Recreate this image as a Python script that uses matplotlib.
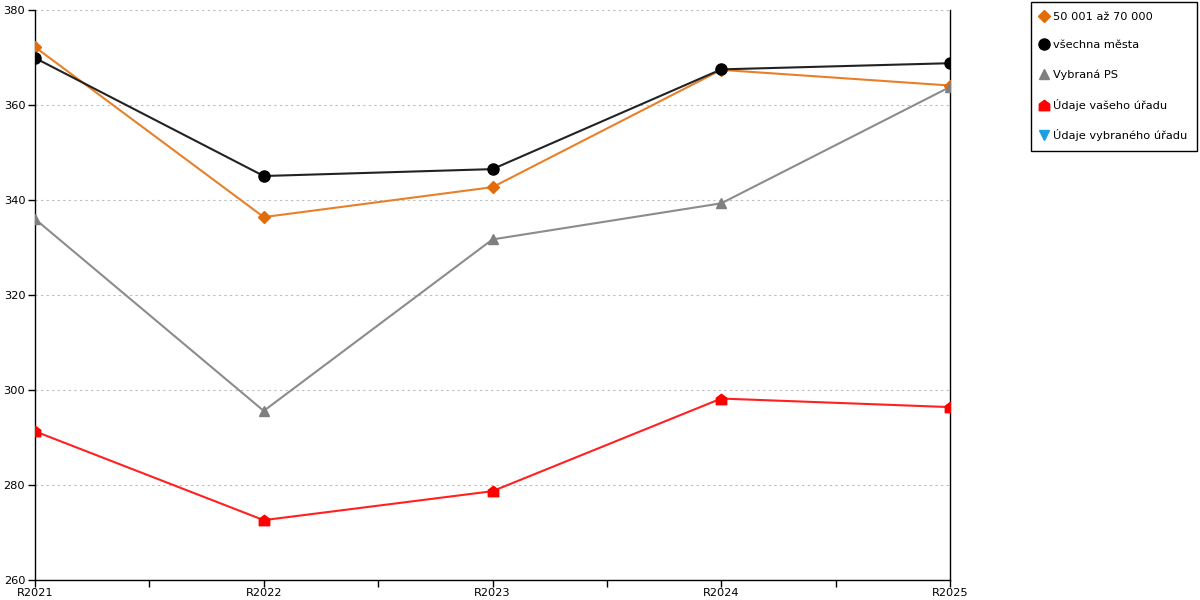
import numpy as np
import matplotlib.pyplot as plt
from matplotlib.path import Path
from matplotlib.lines import Line2D

plt.rcParams["font.family"] = ["DejaVu Sans"]

years = ["R2021", "R2022", "R2023", "R2024", "R2025"]

mesta_50_70 = [372.2, 336.4, 342.7, 367.4, 364.1]
vsechna_mesta = [369.9, 345.05, 346.5, 367.5, 368.8]
vybrana_ps = [336.0, 295.6, 331.7, 339.3, 363.8]
vas_urad = [291.3, 272.6, 278.7, 298.2, 296.4]
vybrany_urad = []

y_ticks = [260, 280, 300, 320, 340, 360, 380]

# domecek jako znacka pro "Údaje vašeho úřadu"
house = Path([(-1, -1), (1, -1), (1, 0.25), (0, 1), (-1, 0.25), (-1, -1)],
             [Path.MOVETO, Path.LINETO, Path.LINETO, Path.LINETO, Path.LINETO, Path.CLOSEPOLY])

series = [
    ("50 001 až 70 000", mesta_50_70, "#e36c0a", "#e8802a", "D", 6),
    ("všechna města", vsechna_mesta, "#000000", "#222222", "o", 8),
    ("Vybraná PS", vybrana_ps, "#7f7f7f", "#8c8c8c", "^", 7.5),
    ("Údaje vašeho úřadu", vas_urad, "#ff0000", "#ff2020", house, 7.5),
    ("Údaje vybraného úřadu", vybrany_urad, "#1ba1e2", "#1ba1e2", "v", 7.5),
]

fig = plt.figure(figsize=(12, 6), dpi=100)
ax = fig.add_axes([35 / 1200, 20 / 600, 915 / 1200, 570 / 600])

x = np.arange(len(years))
handles = []
for label, vals, mcol, lcol, marker, ms in series:
    if vals:
        ax.plot(x[:len(vals)], vals, color=lcol, linewidth=1.5, zorder=3)
        ax.plot(x[:len(vals)], vals, linestyle="none", marker=marker, markersize=ms,
                color=mcol, markeredgecolor=mcol, zorder=4)
    handles.append(Line2D([], [], linestyle="none", marker=marker, markersize=ms,
                          color=mcol, markeredgecolor=mcol, label=label))

ax.set_xlim(0, len(years) - 1)
ax.set_ylim(260, 380)
ax.set_xticks(x)
ax.set_xticklabels(years)
ax.set_xticks(x[:-1] + 0.5, minor=True)
ax.set_yticks(y_ticks)
ax.tick_params(axis="both", which="both", direction="out", length=5, width=1,
               labelsize=8.2, colors="black", pad=2)
ax.tick_params(axis="x", pad=1)

ax.yaxis.grid(True, linestyle=(0, (2, 3)), color="#bbbbbb", linewidth=0.8)
ax.set_axisbelow(True)
ax.spines["top"].set_visible(False)
for side in ["left", "right", "bottom"]:
    ax.spines[side].set_color("black")
    ax.spines[side].set_linewidth(1)

leg = fig.legend(handles=handles, loc="upper left",
                 bbox_to_anchor=(1031 / 1200, 1 - 2 / 600),
                 fontsize=8.2, frameon=True, fancybox=False, framealpha=1,
                 edgecolor="black", labelspacing=1.65, handlelength=0.6,
                 handletextpad=0.5, borderpad=0.85, borderaxespad=0)
leg.get_frame().set_linewidth(1)

fig.savefig("out.png", dpi=100)
